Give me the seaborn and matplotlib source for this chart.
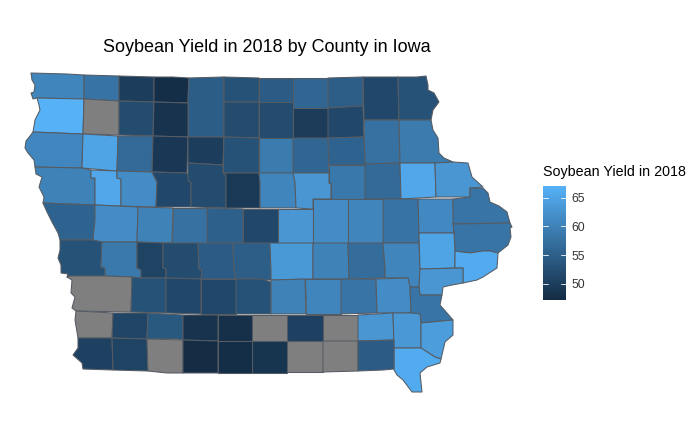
import numpy as np
import matplotlib
matplotlib.use("Agg")
import matplotlib.pyplot as plt
from matplotlib.collections import PolyCollection
from matplotlib.colors import Normalize
from matplotlib.cm import ScalarMappable
import seaborn as sns

NA = np.nan
TITLE = "Soybean Yield in 2018 by County in Iowa"
LEGEND_TITLE = "Soybean Yield in 2018"
LEGEND_TICKS = [50, 55, 60, 65]
VALUE_RANGE = (47.2, 67.0)

# County outlines in map units, one list of vertices per county, with the yield.
counties = [
 ("Lyon", 60.6, [(31,73),(67,74),(84,75),(84,99),(37,98),(33,99),(31,93),(34,92),(35,85),(32,80)]),
 ("Osceola", 57.8, [(84,75),(119,76),(119,101),(84,99)]),
 ("Dickinson", 50.0, [(119,76),(154,77),(154,102),(119,101)]),
 ("Emmet", 47.6, [(154,77),(173,77),(189,78),(188,103),(154,102)]),
 ("Kossuth", 54.7, [(189,78),(224,77),(224,137),(188,137),(188,97)]),
 ("Winnebago", 53.0, [(224,77),(259,78),(259,102),(224,102)]),
 ("Worth", 54.5, [(259,78),(293,78),(293,102),(259,102)]),
 ("Mitchell", 56.0, [(293,78),(328,78),(328,108),(293,108)]),
 ("Howard", 54.8, [(328,78),(363,77),(363,106),(328,108)]),
 ("Winneshiek", 51.5, [(363,77),(398,77),(399,120),(364,120)]),
 ("Allamakee", 53.0, [(398,77),(417,77),(426,76),(428,85),(428,90),(434,93),(439,102),(433,110),(431,120),(399,120)]),
 ("Sioux", 67.0, [(37,98),(84,99),(83,134),(33,132),(35,120),(36,118),(40,110),(39,105)]),
 ("OBrien", NA, [(84,99),(119,101),(119,135),(83,134)]),
 ("Clay", 52.0, [(119,101),(154,102),(153,136),(119,135)]),
 ("Palo Alto", 48.5, [(154,102),(188,103),(188,137),(153,136)]),
 ("Hancock", 52.0, [(224,102),(259,102),(259,138),(224,137)]),
 ("Cerro Gordo", 52.0, [(259,102),(293,102),(293,138),(259,138)]),
 ("Floyd", 49.8, [(293,108),(328,108),(328,138),(293,138)]),
 ("Chickasaw", 51.5, [(328,108),(363,106),(364,137),(328,138)]),
 ("Fayette", 57.5, [(364,120),(399,120),(400,163),(365,164)]),
 ("Clayton", 59.0, [(399,120),(431,120),(433,130),(438,138),(439,153),(444,158),(453,162),(435,163),(400,163)]),
 ("Plymouth", 60.7, [(33,132),(83,134),(82,168),(35,167),(34,160),(28,153),(25,148),(26,141),(30,136)]),
 ("Cherokee", 65.0, [(83,134),(118,136),(117,171),(82,168)]),
 ("Buena Vista", 56.5, [(118,136),(153,136),(152,172),(117,171)]),
 ("Pocahontas", 49.2, [(153,136),(188,137),(187,173),(152,172)]),
 ("Humboldt", 50.0, [(188,137),(224,137),(223,165),(188,163)]),
 ("Wright", 53.0, [(224,137),(259,138),(259,173),(223,173)]),
 ("Franklin", 59.0, [(259,138),(293,138),(293,173),(259,173)]),
 ("Butler", 56.0, [(293,138),(328,138),(329,173),(293,173)]),
 ("Bremer", 55.5, [(328,138),(364,137),(365,165),(329,165)]),
 ("Woodbury", 60.0, [(35,167),(82,168),(91,170),(91,178),(95,178),(95,205),(43,203),(44,197),(39,187),(42,177),(36,174)]),
 ("Ida", 65.5, [(91,170),(117,171),(117,178),(121,179),(121,206),(95,205),(95,178),(91,178)]),
 ("Sac", 61.5, [(117,171),(152,172),(157,182),(156,207),(121,206),(121,179),(117,178)]),
 ("Calhoun", 51.5, [(152,172),(187,173),(191,182),(191,207),(156,207),(157,182)]),
 ("Webster", 52.0, [(188,163),(223,165),(223,173),(226,175),(226,208),(191,207),(191,182),(188,181)]),
 ("Hamilton", 49.3, [(223,173),(259,173),(260,182),(260,208),(226,208),(226,175)]),
 ("Hardin", 60.5, [(259,173),(293,173),(295,182),(296,208),(260,208),(260,182)]),
 ("Grundy", 63.0, [(293,173),(329,173),(329,183),(331,183),(331,199),(313,199),(313,209),(296,208),(295,182)]),
 ("Black Hawk", 58.5, [(329,165),(365,165),(365,199),(331,199),(331,183),(329,183)]),
 ("Buchanan", 56.5, [(365,164),(400,163),(401,199),(365,199)]),
 ("Delaware", 65.5, [(400,163),(435,163),(436,197),(401,199)]),
 ("Dubuque", 63.0, [(435,163),(453,162),(468,163),(470,170),(472,177),(483,187),(470,188),(470,197),(436,197)]),
 ("Monona", 55.5, [(43,203),(95,205),(95,220),(93,240),(60,240),(58,233),(52,222),(47,212)]),
 ("Crawford", 61.5, [(95,205),(138,207),(137,242),(102,242),(93,240),(95,220)]),
 ("Carroll", 60.0, [(138,207),(173,208),(172,243),(137,242)]),
 ("Greene", 57.5, [(173,208),(207,208),(207,243),(172,243)]),
 ("Boone", 55.0, [(207,208),(243,209),(243,243),(207,243)]),
 ("Story", 51.5, [(243,209),(278,209),(278,243),(243,243)]),
 ("Marshall", 63.0, [(278,209),(313,209),(313,243),(278,243)]),
 ("Tama", 61.5, [(313,199),(348,199),(348,243),(313,243)]),
 ("Benton", 60.5, [(348,199),(383,199),(383,243),(348,243)]),
 ("Linn", 57.8, [(383,199),(418,199),(419,233),(419,243),(383,243)]),
 ("Jones", 61.0, [(418,199),(453,199),(454,233),(419,233)]),
 ("Jackson", 58.0, [(453,199),(470,197),(470,188),(483,188),(488,193),(490,202),(499,206),(507,212),(510,223),(453,224)]),
 ("Clinton", 58.0, [(453,224),(510,223),(512,227),(510,228),(511,237),(508,245),(498,253),(490,251),(483,251),(470,253),(462,252),(455,251),(454,233)]),
 ("Harrison", 53.0, [(60,240),(93,240),(102,242),(101,267),(105,268),(105,276),(70,276),(67,277),(68,274),(61,273),(61,265),(58,258),(60,250)]),
 ("Shelby", 58.8, [(102,242),(137,242),(137,268),(141,270),(141,278),(132,277),(105,276),(105,268),(101,267)]),
 ("Audubon", 50.8, [(137,242),(163,243),(163,268),(166,269),(166,278),(141,278),(141,270),(137,268)]),
 ("Guthrie", 52.0, [(163,243),(198,243),(199,269),(202,270),(201,279),(166,278),(166,269),(163,268)]),
 ("Dallas", 54.5, [(198,243),(233,243),(234,269),(236,279),(201,279),(202,270),(199,269)]),
 ("Polk", 54.8, [(233,243),(270,243),(271,270),(271,280),(263,280),(262,279),(236,279),(234,269)]),
 ("Jasper", 63.5, [(270,243),(278,243),(313,243),(313,279),(271,280),(271,270)]),
 ("Poweshiek", 60.0, [(313,243),(348,243),(349,279),(313,279)]),
 ("Iowa", 57.0, [(348,243),(383,243),(385,268),(385,278),(349,279)]),
 ("Johnson", 60.5, [(383,243),(419,243),(420,269),(419,287),(410,287),(408,278),(385,278),(385,268)]),
 ("Cedar", 65.0, [(419,233),(454,233),(455,251),(455,268),(420,269)]),
 ("Scott", 66.0, [(455,251),(462,252),(470,253),(483,251),(490,251),(498,253),(497,268),(483,277),(477,280),(463,283),(463,268),(455,268)]),
 ("Muscatine", 63.0, [(420,269),(463,268),(463,283),(452,285),(443,287),(442,295),(420,295),(419,287)]),
 ("Pottawattamie", NA, [(67,277),(70,276),(105,276),(132,277),(131,312),(76,311),(72,308),(75,297),(71,293),(72,280)]),
 ("Cass", 53.0, [(132,277),(141,278),(166,278),(166,313),(131,312)]),
 ("Adair", 51.5, [(166,278),(201,279),(201,314),(166,313)]),
 ("Madison", 51.5, [(201,279),(236,279),(236,314),(201,314)]),
 ("Warren", 53.0, [(236,279),(262,279),(271,282),(271,314),(236,314)]),
 ("Marion", 60.0, [(271,280),(305,279),(306,314),(271,314)]),
 ("Mahaska", 60.5, [(305,279),(341,279),(341,314),(306,314)]),
 ("Keokuk", 58.0, [(341,279),(376,279),(377,313),(341,314)]),
 ("Washington", 61.5, [(376,279),(408,278),(410,287),(411,313),(377,313)]),
 ("Louisa", 58.0, [(410,287),(419,287),(420,295),(442,295),(440,305),(447,313),(453,320),(421,323),(420,314),(411,313)]),
 ("Mills", NA, [(76,311),(113,313),(112,338),(78,338),(75,320)]),
 ("Montgomery", 51.0, [(113,313),(148,313),(147,339),(112,338)]),
 ("Adams", 54.0, [(148,313),(183,315),(183,340),(177,339),(147,339)]),
 ("Union", 48.5, [(183,315),(218,315),(218,341),(183,340)]),
 ("Clarke", 48.0, [(218,315),(252,315),(252,341),(218,341)]),
 ("Lucas", NA, [(252,315),(287,315),(287,341),(252,341)]),
 ("Monroe", 50.5, [(287,315),(323,315),(323,341),(287,341)]),
 ("Wapello", NA, [(323,315),(358,315),(358,341),(323,341)]),
 ("Jefferson", 63.0, [(358,315),(393,313),(394,340),(358,341)]),
 ("Henry", 63.3, [(393,313),(411,313),(420,314),(421,323),(421,348),(394,348)]),
 ("Des Moines", 64.0, [(421,323),(453,320),(453,335),(445,342),(441,359),(435,357),(421,348)]),
 ("Lee", 66.0, [(394,348),(421,348),(435,357),(441,359),(440,363),(427,367),(420,373),(422,392),(412,392),(403,380),(397,375),(394,370)]),
 ("Fremont", 50.5, [(78,338),(112,338),(113,370),(83,369),(82,363),(73,355),(78,348)]),
 ("Page", 50.8, [(112,338),(147,339),(148,371),(113,370)]),
 ("Taylor", NA, [(147,339),(183,340),(183,373),(167,373),(148,371)]),
 ("Ringgold", 47.5, [(183,340),(218,341),(218,373),(183,373)]),
 ("Decatur", 47.7, [(218,341),(252,341),(252,373),(218,373)]),
 ("Wayne", 48.7, [(252,341),(287,341),(287,373),(252,373)]),
 ("Appanoose", NA, [(287,341),(323,341),(323,372),(287,372)]),
 ("Davis", NA, [(323,341),(358,341),(358,371),(323,372)]),
 ("Van Buren", 54.5, [(358,341),(394,340),(394,369),(383,370),(358,371)]),
]

county_values = np.array([c[1] for c in counties], dtype=float)
county_shapes = [c[2] for c in counties]

sns.set_theme(style="white")
plt.rcParams["font.family"] = ["Liberation Sans", "DejaVu Sans"]

W, H = 687, 441
fig = plt.figure(figsize=(W / 100, H / 100), dpi=100, facecolor="white")
ax = fig.add_axes([0, 0, 1, 1])
ax.set_xlim(0, W)
ax.set_ylim(H, 0)
ax.axis("off")

cmap = sns.blend_palette(["#132B43", "#56B1F7"], n_colors=256, as_cmap=True).copy()
cmap.set_bad("#7F7F7F")
norm = Normalize(*VALUE_RANGE)

polys = PolyCollection(county_shapes, array=np.ma.masked_invalid(county_values),
                       cmap=cmap, norm=norm, edgecolors="#555B63", linewidths=0.75)
ax.add_collection(polys)

ax.text(267, 48, TITLE, ha="center", va="center", fontsize=13, color="black")
ax.text(543, 172, LEGEND_TITLE, ha="left", va="center", fontsize=10.3, color="black")

cax = fig.add_axes([543 / W, 1 - 300 / H, 23 / W, 114 / H])
cb = fig.colorbar(ScalarMappable(norm=norm, cmap=cmap), cax=cax)
cb.outline.set_visible(False)
cb.set_ticks(LEGEND_TICKS)
cb.ax.tick_params(length=0, pad=4.2, labelsize=8.8, labelcolor="#333333")
for t in LEGEND_TICKS:
    cax.plot([0, 0.2], [t, t], color="white", lw=0.6, transform=cax.get_yaxis_transform())
    cax.plot([0.8, 1], [t, t], color="white", lw=0.6, transform=cax.get_yaxis_transform())

fig.savefig("out.png", dpi=100, facecolor="white")
